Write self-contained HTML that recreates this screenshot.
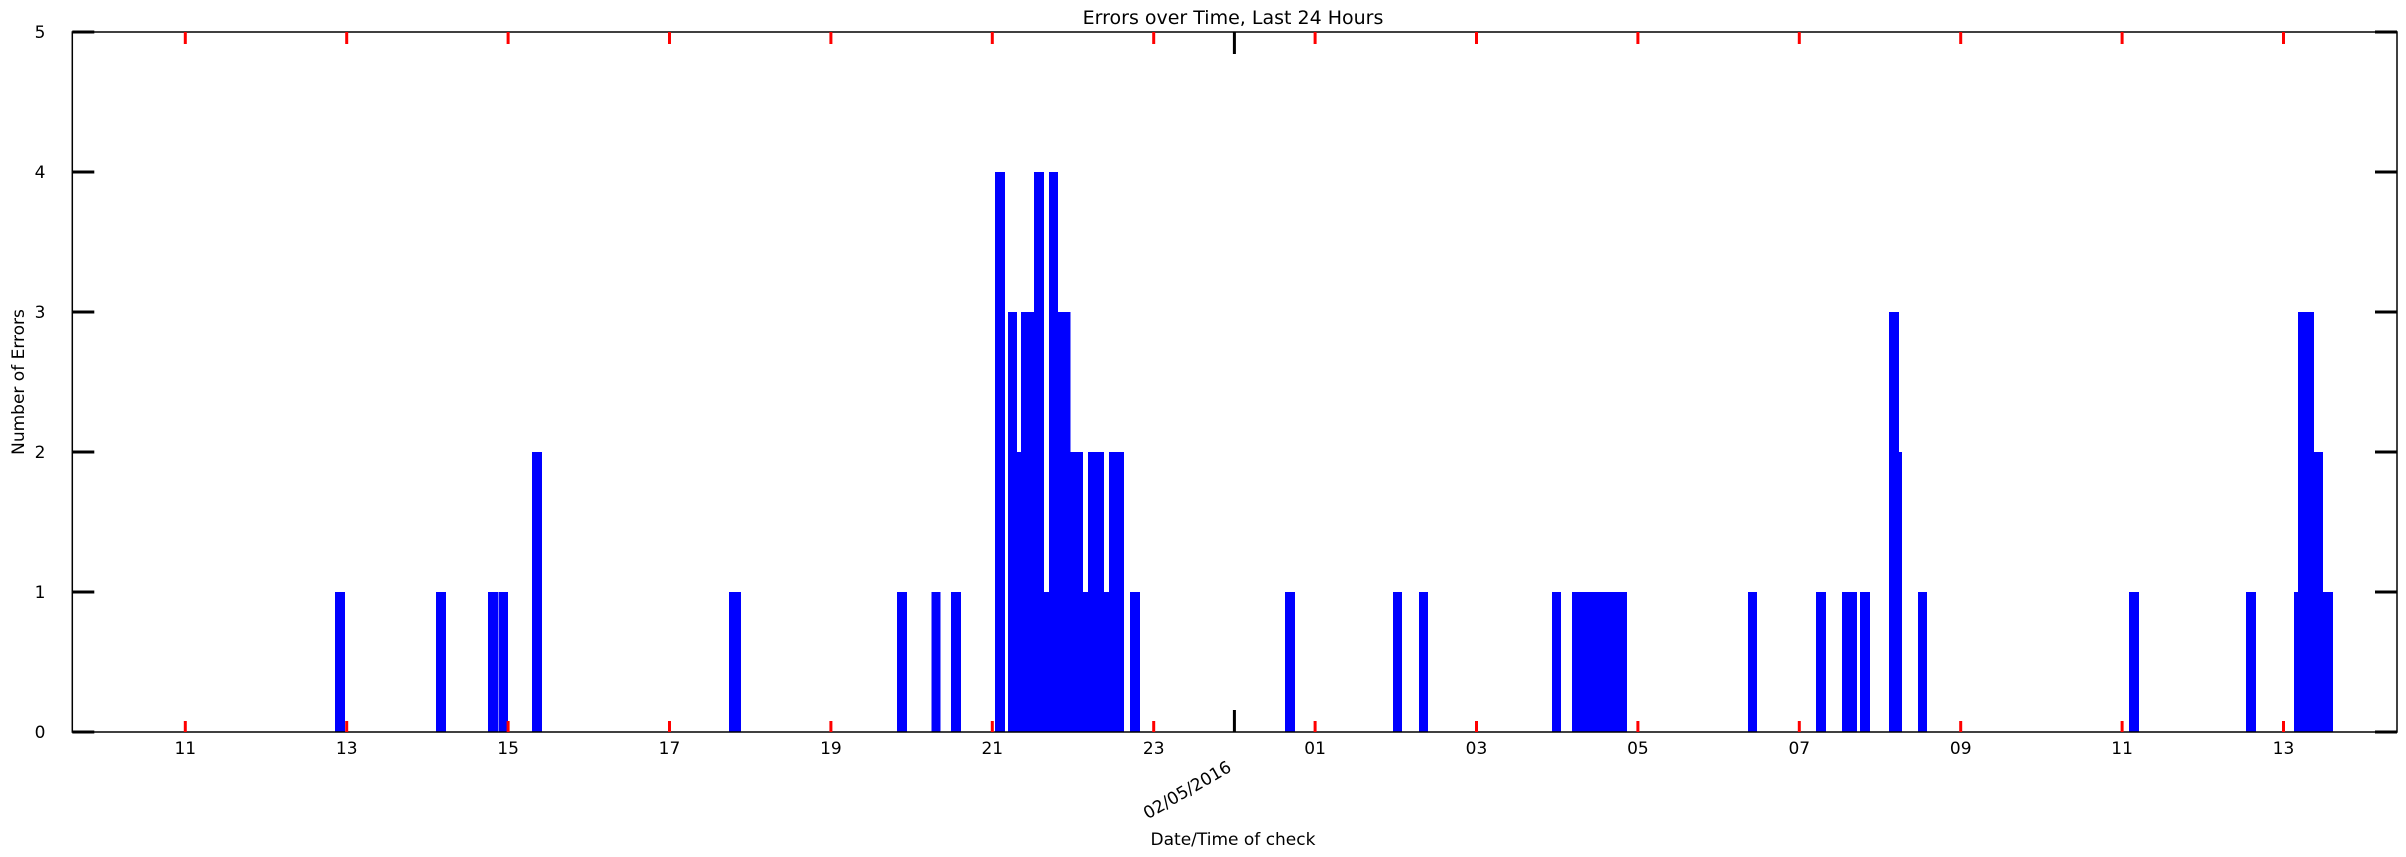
<!DOCTYPE html>
<html><head><meta charset="utf-8"><style>
html,body{margin:0;padding:0;background:#fff;}
svg{display:block;font-family:"DejaVu Sans","Liberation Sans",sans-serif;}
</style></head><body>
<svg id="chart" width="2406" height="857" viewBox="0 0 2406 857" xmlns="http://www.w3.org/2000/svg">
<rect x="0" y="0" width="2406" height="857" fill="#fff"/>
<g id="bars" shape-rendering="crispEdges"></g>
<g id="axes"></g>
<text x="1233" y="24" font-size="19" text-anchor="middle">Errors over Time, Last 24 Hours</text>
<text x="1233" y="845" font-size="17" text-anchor="middle">Date/Time of check</text>
<text transform="translate(24,382) rotate(-90)" font-size="17" text-anchor="middle">Number of Errors</text>
<text transform="translate(1190,795) rotate(-30)" font-size="17" text-anchor="middle">02/05/2016</text>
</svg>
<script>
const barStarts = [12.857,14.107,14.749,14.881,15.296,17.737,19.817,20.245,20.488,21.033,21.194,21.306,21.355,21.517,21.641,21.703,21.815,21.972,22.124,22.186,22.385,22.447,22.707,24.628,25.966,26.288,27.936,28.184,30.365,31.207,31.529,31.752,32.111,32.235,32.470,35.085,36.535,37.130,37.180,37.378,37.490];
const barEnds   = [12.978,14.231,14.875,14.999,15.420,17.886,19.941,20.359,20.612,21.157,21.306,21.355,21.517,21.641,21.703,21.815,21.972,22.124,22.186,22.385,22.447,22.633,22.831,24.752,26.078,26.400,28.048,28.866,30.477,31.331,31.715,31.876,32.235,32.272,32.582,35.209,36.659,37.180,37.378,37.490,37.614];
const barValues = [1,1,1,1,2,1,1,1,1,4,3,2,3,4,1,4,3,2,1,2,1,2,1,1,1,1,1,1,1,1,1,1,3,2,1,1,1,1,3,2,1];
const xTickHours = [11,13,15,17,19,21,23,25,27,29,31,33,35,37];
const xTickLabels = ["11","13","15","17","19","21","23","01","03","05","07","09","11","13"];
const yTicks = [0,1,2,3,4,5];
const midnightHour = 24;

const NS = "http://www.w3.org/2000/svg";
const L = 72.3, R = 2397, T = 32, B = 732;
const xScale = h => 185.3 + (h - 11) * 80.7;
const yScale = v => B - v * (B - T) / 5;

function mk(tag, attrs, parent) {
  const e = document.createElementNS(NS, tag);
  for (const k in attrs) e.setAttribute(k, attrs[k]);
  parent.appendChild(e);
  return e;
}
const bars = document.getElementById('bars');
const axes = document.getElementById('axes');

for (let i = 0; i < barValues.length; i++) {
  const x0 = xScale(barStarts[i]), x1 = xScale(barEnds[i]);
  const r = mk('rect', {x: x0, y: yScale(barValues[i]), width: x1 - x0, height: B - yScale(barValues[i]), fill: '#0000ff'}, bars);
  
  
}

const frame = mk('rect', {x: L, y: T, width: R - L, height: B - T, fill: 'none', stroke: '#000', 'stroke-width': 1.5}, axes);



yTicks.forEach(v => {
  const y = yScale(v);
  const t1 = mk('line', {x1: L, x2: L + 22, y1: y, y2: y, stroke: '#000', 'stroke-width': 3}, axes);
  
  
  const t2 = mk('line', {x1: R - 22, x2: R, y1: y, y2: y, stroke: '#000', 'stroke-width': 3}, axes);
  
  
  const lb = mk('text', {x: 40, y: y + 6, 'font-size': 17, 'text-anchor': 'middle'}, axes);
  lb.textContent = String(v);
  
  
});

xTickHours.forEach((h, i) => {
  const x = xScale(h);
  const a = mk('line', {x1: x, x2: x, y1: T, y2: T + 12, stroke: '#ff0000', 'stroke-width': 3}, axes);
  
  
  const b = mk('line', {x1: x, x2: x, y1: B - 11, y2: B, stroke: '#ff0000', 'stroke-width': 3}, axes);
  
  
  const lb = mk('text', {x: x, y: 754, 'font-size': 17, 'text-anchor': 'middle'}, axes);
  lb.textContent = xTickLabels[i];
  
  
});

const mx = xScale(midnightHour);
const m1 = mk('line', {x1: mx, x2: mx, y1: T, y2: T + 22, stroke: '#000', 'stroke-width': 3}, axes);


const m2 = mk('line', {x1: mx, x2: mx, y1: B - 22, y2: B, stroke: '#000', 'stroke-width': 3}, axes);


</script>
</body></html>
